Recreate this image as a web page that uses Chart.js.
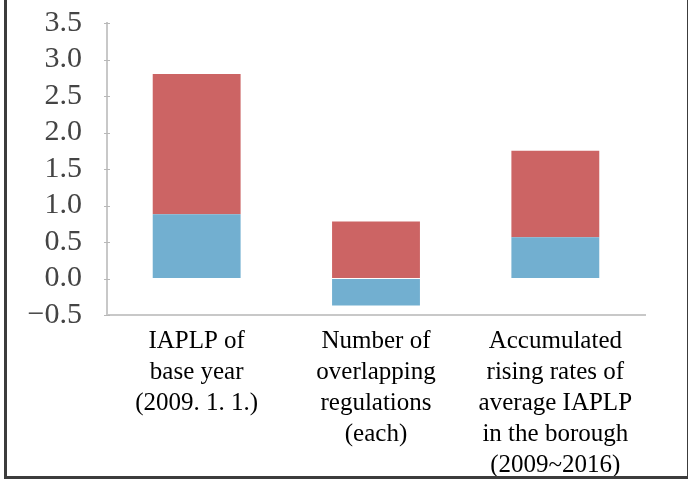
<!DOCTYPE html>
<html>
<head>
<meta charset="utf-8">
<script src="https://cdn.jsdelivr.net/npm/chart.js@4"></script>
<style>
  html, body { margin: 0; padding: 0; background: #fff; }
  #wrap { position: relative; width: 688px; height: 479px; }
  #frame { position: absolute; left: 4px; top: -3px; width: 680px; height: 476px;
           border: 3px solid #3c3c3c; pointer-events: none; }
  canvas { position: absolute; left: 0; top: 0; }
</style>
</head>
<body>
<div id="wrap">
  <canvas id="c" width="688" height="479"></canvas>
  <div id="frame"></div>
</div>
<script>
const categories = [
  ["IAPLP of", "base year", "(2009. 1. 1.)"],
  ["Number of", "overlapping", "regulations", "(each)"],
  ["Accumulated", "rising rates of", "average IAPLP", "in the borough", "(2009~2016)"]
];
const blueValues = [0.88, -0.37, 0.565];
const redValues = [1.92, 0.78, 1.185];
const yTicks = [-0.5, 0.0, 0.5, 1.0, 1.5, 2.0, 2.5, 3.0, 3.5];

// small tick marks crossing the y axis line
const crossTicks = {
  id: 'crossTicks',
  afterDraw(chart) {
    const y = chart.scales.y, ctx = chart.ctx;
    const x0 = y.right;
    ctx.save();
    ctx.strokeStyle = '#b8b8b8';
    ctx.lineWidth = 1;
    y.ticks.forEach(t => {
      const py = Math.round(y.getPixelForValue(t.value)) + 0.5;
      ctx.beginPath();
      ctx.moveTo(x0 - 3, py);
      ctx.lineTo(x0 + 3, py);
      ctx.stroke();
    });
    ctx.restore();
  }
};

new Chart(document.getElementById('c'), {
  type: 'bar',
  data: {
    labels: categories,
    datasets: [
      { label: 'blue', data: blueValues, backgroundColor: '#72afd0', borderWidth: 0 },
      { label: 'red', data: redValues, backgroundColor: '#cc6464', borderWidth: 0 }
    ]
  },
  options: {
    responsive: false,
    animation: false,
    layout: { padding: { top: 23, right: 43, left: 0, bottom: 0 } },
    plugins: { legend: { display: false }, tooltip: { enabled: false } },
    datasets: { bar: { categoryPercentage: 1, barPercentage: 0.49 } },
    scales: {
      x: {
        stacked: true,
        grid: { drawOnChartArea: false, drawTicks: false },
        border: { display: true, color: '#c8c8c8', width: 2 },
        ticks: {
          color: '#000',
          padding: 11,
          maxRotation: 0,
          autoSkip: false,
          font: { family: '"Liberation Serif", serif', size: 25, lineHeight: 1.24 }
        },
        afterFit: (s) => { s.height = 164; }
      },
      y: {
        stacked: true,
        min: -0.5, max: 3.5,
        afterBuildTicks: (s) => { s.ticks = yTicks.map(v => ({ value: v })); },
        grid: { drawOnChartArea: false, drawTicks: true, tickLength: 25, tickColor: 'rgba(0,0,0,0)' },
        border: { display: true, color: '#c8c8c8', width: 2 },
        ticks: {
          color: '#444',
          padding: 0,
          autoSkip: false,
          font: { family: '"Liberation Serif", serif', size: 30 },
          callback: (v) => (v < 0 ? '\u2212' + Math.abs(v).toFixed(1) : Number(v).toFixed(1))
        },
        afterFit: (s) => { s.width = 107; }
      }
    }
  },
  plugins: [crossTicks]
});
</script>
</body>
</html>
